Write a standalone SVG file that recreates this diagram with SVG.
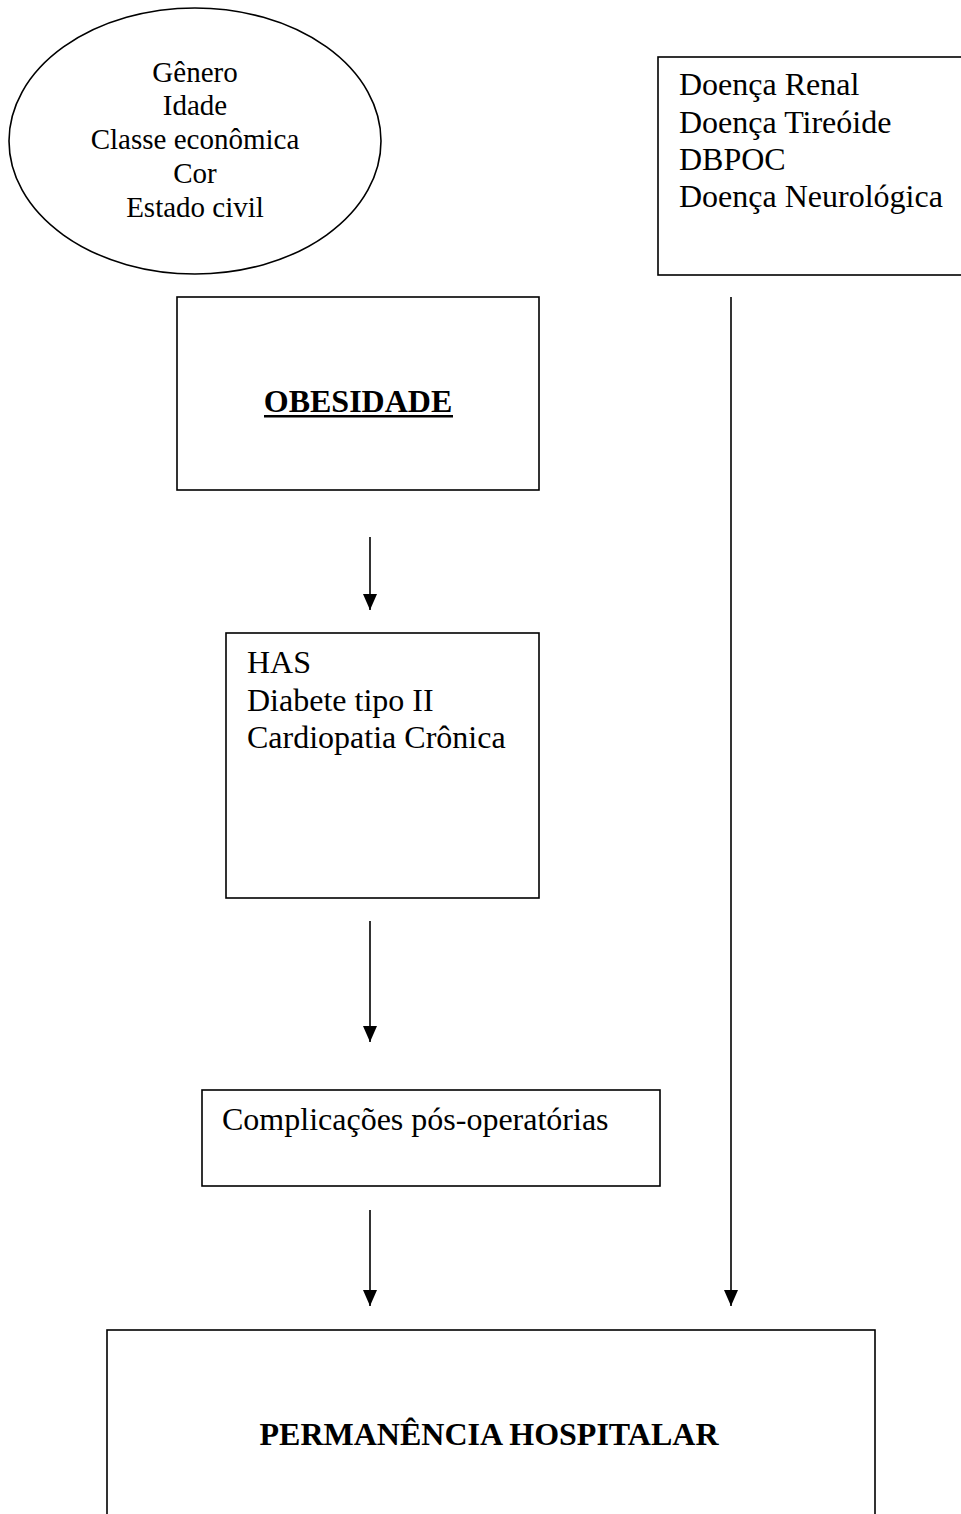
<svg xmlns="http://www.w3.org/2000/svg" width="961" height="1514" viewBox="0 0 961 1514">
<style>
.s{fill:#fff;stroke:#000;stroke-width:1.6}
.t{font-family:"Liberation Serif","Times New Roman",serif;font-size:32px;fill:#000}
.e{font-family:"Liberation Serif","Times New Roman",serif;font-size:29px;fill:#000;text-anchor:middle}
.b{font-family:"Liberation Serif","Times New Roman",serif;font-size:32px;font-weight:bold;fill:#000;text-anchor:middle}
.c{stroke:#000;stroke-width:1.6;fill:none;marker-end:url(#ah)}
</style>
<defs>
<marker id="ah" markerWidth="14" markerHeight="16" refX="7" refY="16" orient="auto-start-reverse" markerUnits="userSpaceOnUse" viewBox="0 0 14 16">
<path d="M0,0 L14,0 L7,16 Z" fill="#000" transform="rotate(-90 7 8) translate(0 0)"/>
</marker>
</defs>
<rect width="961" height="1514" fill="#fff"/>
<g id="n-demog">
<ellipse class="s" cx="195" cy="141" rx="186" ry="133"/>
<text class="e" x="195" y="82">Gênero</text>
<text class="e" x="195" y="115">Idade</text>
<text class="e" x="195" y="149">Classe econômica</text>
<text class="e" x="195" y="183">Cor</text>
<text class="e" x="195" y="217">Estado civil</text>
</g>
<g id="n-doencas">
<rect class="s" x="658" y="57" width="320" height="218"/>
<text class="t" x="679" y="95">Doença Renal</text>
<text class="t" x="679" y="133">Doença Tireóide</text>
<text class="t" x="679" y="170">DBPOC</text>
<text class="t" x="679" y="207">Doença Neurológica</text>
</g>
<g id="n-obesidade">
<rect class="s" x="177" y="297" width="362" height="193"/>
<text class="b" x="358" y="412">OBESIDADE</text>
<rect x="264" y="415" width="189" height="2.5" fill="#000"/>
</g>
<g id="n-has">
<rect class="s" x="226" y="633" width="313" height="265"/>
<text class="t" x="247" y="673">HAS</text>
<text class="t" x="247" y="711">Diabete tipo II</text>
<text class="t" x="247" y="748">Cardiopatia Crônica</text>
</g>
<g id="n-compl">
<rect class="s" x="202" y="1090" width="458" height="96"/>
<text class="t" x="222" y="1130">Complicações pós-operatórias</text>
</g>
<g id="n-perm">
<rect class="s" x="107" y="1330" width="768" height="200"/>
<text class="b" x="489" y="1445">PERMANÊNCIA HOSPITALAR</text>
</g>
<g id="connectors">
<path d="M370,537 L370,610" stroke="#000" stroke-width="1.6"/>
<path d="M363,594 L377,594 L370,610 Z" fill="#000"/>
<path d="M370,921 L370,1042" stroke="#000" stroke-width="1.6"/>
<path d="M363,1026 L377,1026 L370,1042 Z" fill="#000"/>
<path d="M370,1210 L370,1306" stroke="#000" stroke-width="1.6"/>
<path d="M363,1290 L377,1290 L370,1306 Z" fill="#000"/>
<path d="M731,297 L731,1306" stroke="#000" stroke-width="1.6"/>
<path d="M724,1290 L738,1290 L731,1306 Z" fill="#000"/>
</g>
</svg>
